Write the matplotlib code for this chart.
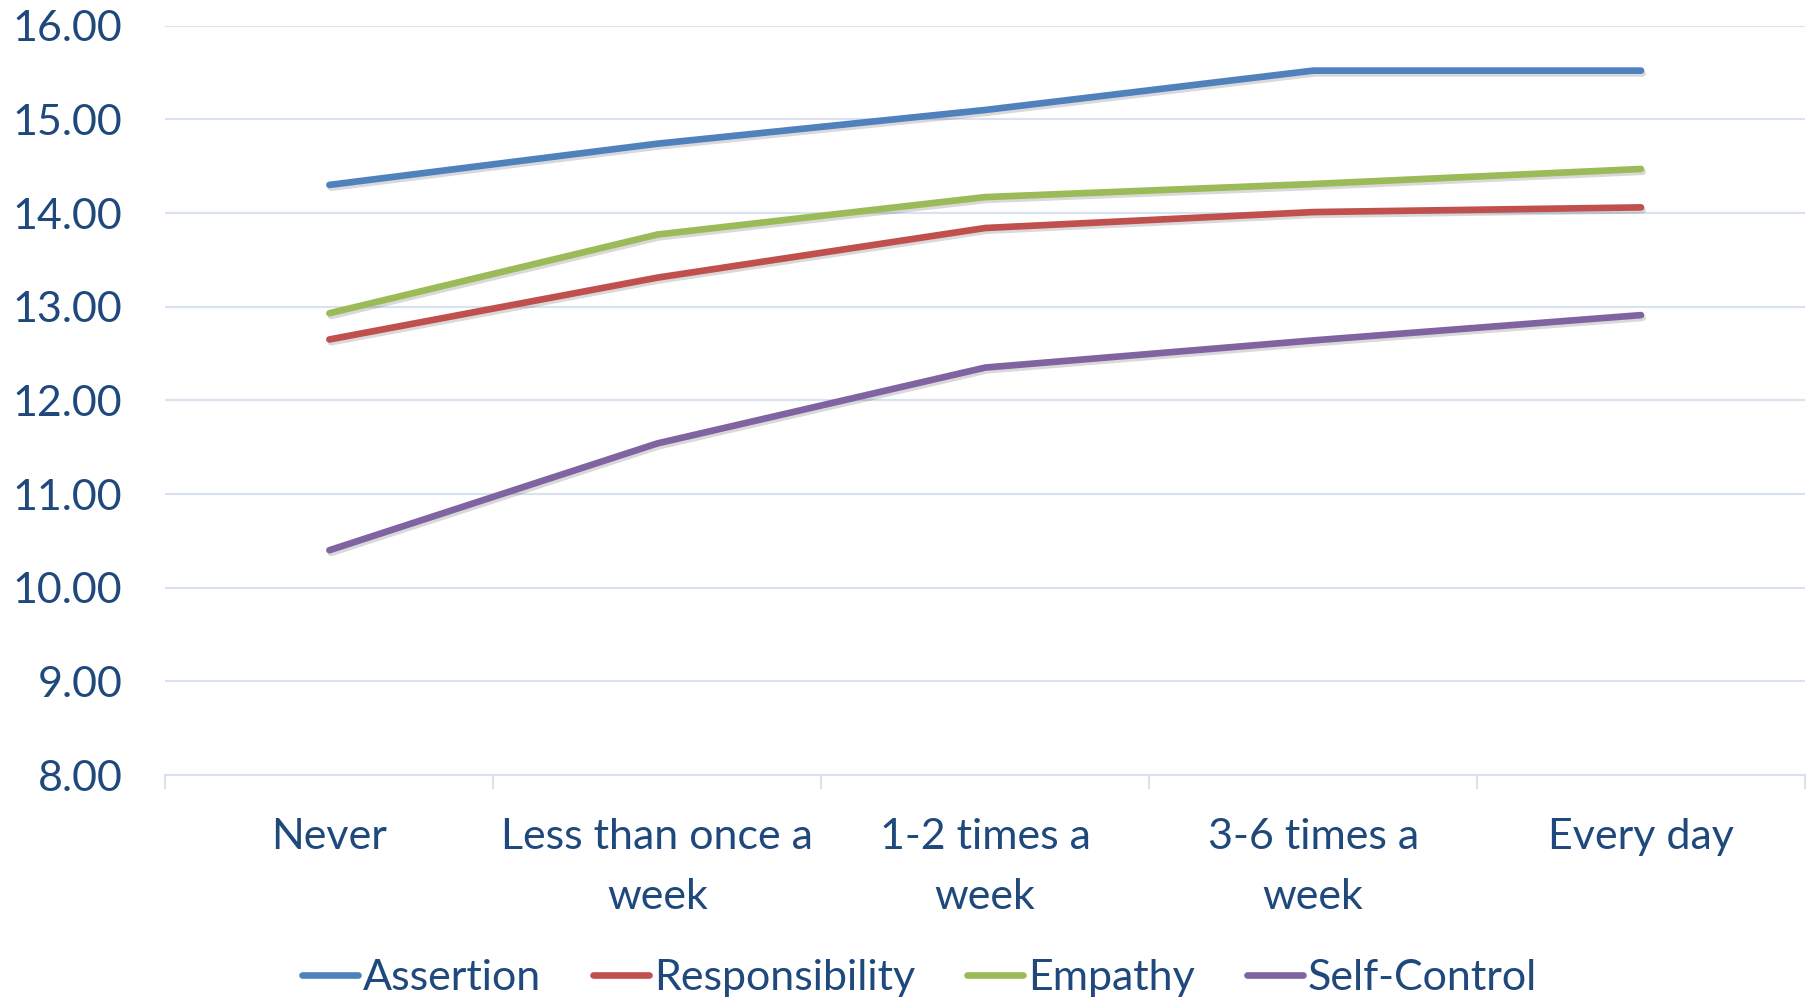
import matplotlib
matplotlib.use("Agg")
import matplotlib.pyplot as plt
import matplotlib.patheffects as pe
from matplotlib.ticker import FixedLocator, NullFormatter

categories = ["Never", "Less than once a\nweek", "1-2 times a\nweek", "3-6 times a\nweek", "Every day"]
assertion = [14.30, 14.74, 15.10, 15.52, 15.52]
responsibility = [12.65, 13.31, 13.84, 14.01, 14.06]
empathy = [12.93, 13.77, 14.17, 14.31, 14.47]
self_control = [10.40, 11.54, 12.35, 12.64, 12.91]
series = [("Assertion", assertion, "#4F81BD"),
          ("Responsibility", responsibility, "#C0504D"),
          ("Empathy", empathy, "#9BBB59"),
          ("Self-Control", self_control, "#8064A2")]
yticks = [8, 9, 10, 11, 12, 13, 14, 15, 16]

plt.rcParams['font.family'] = ['Lato', 'DejaVu Sans']
text_color = "#1F497D"
grid_color = "#D9E2F1"
fs = 31

fig = plt.figure(figsize=(18.14, 9.99), dpi=100)
ax = fig.add_axes([0.0912, 0.2242, 0.995 - 0.0912, 0.9743 - 0.2242])

x = list(range(len(categories)))
for name, vals, col in series:
    ax.plot(x, vals, color=col, lw=4.8, solid_capstyle='round', solid_joinstyle='round', label=name,
            path_effects=[pe.SimpleLineShadow(offset=(1.2, -2.0), shadow_color='black', alpha=0.15),
                          pe.Normal()])

ax.set_xlim(-0.5, len(categories) - 0.5)
ax.set_ylim(8, 16)
ax.set_yticks(yticks)
ax.set_yticklabels([f"{v:.2f}" for v in yticks])
ax.yaxis.grid(True, color=grid_color, lw=1.5)
ax.set_axisbelow(True)
ax.tick_params(axis='y', length=0, pad=31, labelsize=fs, labelcolor=text_color)

ax.xaxis.set_major_locator(FixedLocator([i - 0.5 for i in range(len(categories) + 1)]))
ax.xaxis.set_major_formatter(NullFormatter())
ax.xaxis.set_minor_locator(FixedLocator(x))
ax.set_xticklabels(categories, minor=True)
ax.tick_params(axis='x', which='major', length=10, width=1.5, color=grid_color)
ax.tick_params(axis='x', which='minor', length=0, pad=31, labelsize=fs, labelcolor=text_color)
for lbl in ax.get_xticklabels(minor=True):
    lbl.set_linespacing(1.72)

for s in ['top', 'right', 'left']:
    ax.spines[s].set_visible(False)
ax.spines['bottom'].set_color(grid_color)
ax.spines['bottom'].set_linewidth(1.5)

leg = fig.legend(loc='center', bbox_to_anchor=(0.507, 0.021), ncol=4, frameon=False,
                 fontsize=fs, handlelength=1.3, handletextpad=0.12, columnspacing=1.2,
                 borderaxespad=0, borderpad=0)
for t in leg.get_texts():
    t.set_color(text_color)
for h in leg.get_lines():
    h.set_path_effects([])

fig.savefig("out.png", dpi=100)
